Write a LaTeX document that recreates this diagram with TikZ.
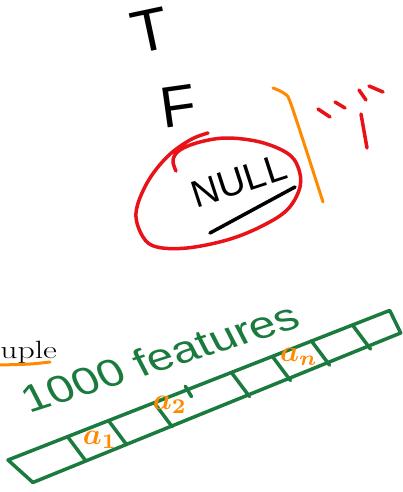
\documentclass[tikz,border=0pt]{standalone}
\usepackage{fontspec}
\usepackage{graphicx}
\newfontfamily\handfont{Liberation Sans}
\definecolor{penred}{HTML}{E81219}
\definecolor{pengreen}{HTML}{1B7A3E}
\definecolor{penorange}{HTML}{FF8A00}
\tikzset{
    redpen/.style={draw=penred, line width=3.5pt, line cap=round, line join=round},
    greenpen/.style={draw=pengreen, line width=3.5pt, line cap=round, line join=round},
    orangepen/.style={draw=penorange, line width=3pt, line cap=round, line join=round},
    blackpen/.style={draw=black, line width=3.5pt, line cap=round, line join=round},
    hand/.style={inner sep=0pt, font=\handfont\fontsize{#1}{#1}\selectfont},
    entry/.style={inner sep=0pt, text=penorange}
}
\begin{document}
\begin{tikzpicture}[x=1pt, y=-1pt]
    \useasboundingbox (0,0) rectangle (403,492);

    % letters at the top
    \node[hand=60, rotate=12] (tletter) at (150,31) {T};
    \node[hand=58, rotate=8] (fletter) at (178,106) {F};

    % circled NULL
    \node[hand=38, rotate=18] (nullword) at (239,181) {NULL};
    \coordinate (ulstart) at (210,233);
    \coordinate (ulend) at (295,187);
    \draw[blackpen] (ulstart) -- (ulend);
    \draw[redpen] plot[smooth, tension=0.6] coordinates {
        (208,133) (190,140) (167,157) (147,183) (136,213) (143,237) (157,247)
        (187,248) (227,240) (260,227) (287,210) (300,187) (298,167) (287,153)
        (260,142) (227,138) (200,142) (180,150) (173,160) (176,171)};

    % orange bracket and red marks
    \draw[orangepen] plot[smooth] coordinates {(273,88) (285,94) (292,107) (323,202)};
    \draw[redpen] (318,109) -- (330,117);
    \draw[redpen] (335,102) -- (345,108);
    \draw[redpen] (359,90) -- (366,100);
    \draw[redpen] (369,86) -- (383,92);
    \draw[redpen] (361,114) -- (367,148);

    % cut-off word on the left
    \node[anchor=base west, inner sep=0pt, xscale=1.35,
          font=\fontsize{25}{25}\selectfont] (tupleword) at (0,358) {uple};
    \draw[orangepen] plot[smooth] coordinates {(0,365) (30,364) (50,362)};

    % feature vector
    \node[hand=38, text=pengreen, xscale=1.27, rotate=22] (featlabel) at (160,357) {1000 features};
    \begin{scope}[shift={(8,460)}, rotate=21.4]
        \draw[greenpen] (0,0) -- (410,0) -- (412,25) -- (15,30) -- cycle;
        \foreach \t in {64,108,157,240,284,326,370}
            \draw[greenpen] (\t,0) -- (\t+8,29);
        \draw[greenpen] (192,-4) -- (194,8);
    \end{scope}
    \node[entry] (aone) at (100,440) {\scalebox{3}{\boldmath$a_1$}};
    \node[entry] (atwo) at (170,405) {\scalebox{3}{\boldmath$a_2$}};
    \node[entry] (anth) at (299,357) {\scalebox{3}{\boldmath$a_n$}};
\end{tikzpicture}
\end{document}
